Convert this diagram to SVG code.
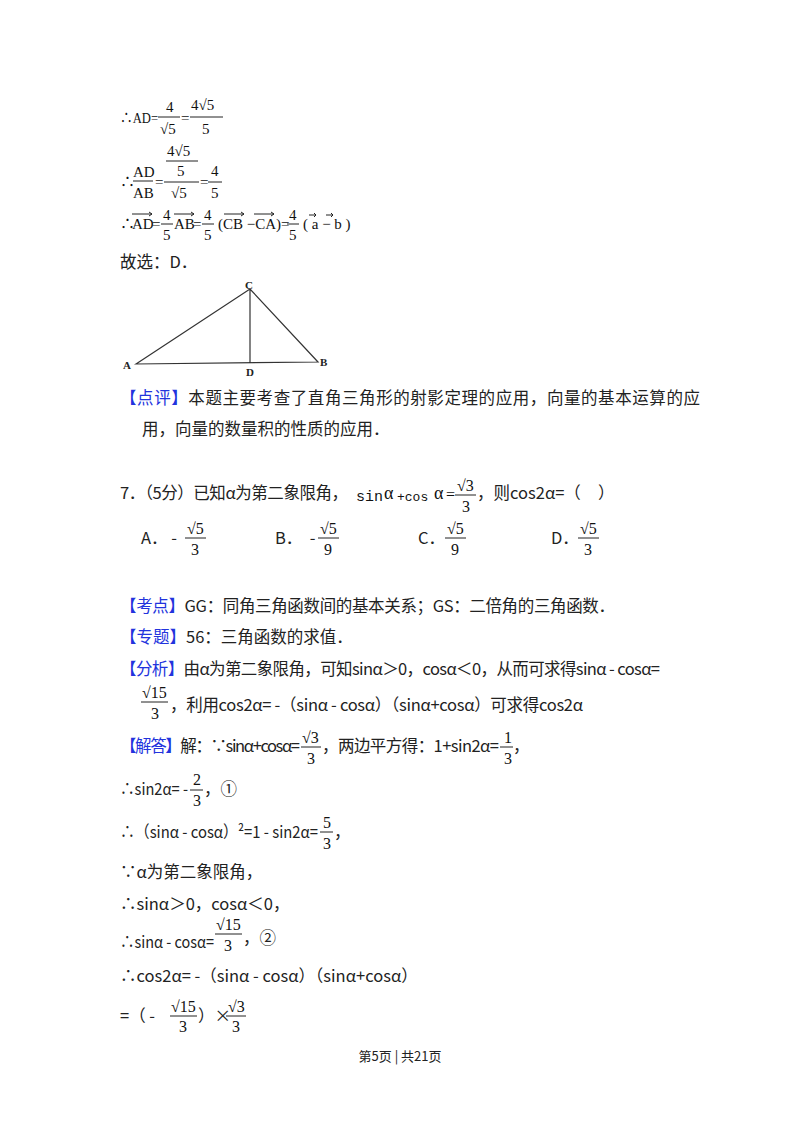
<svg xmlns="http://www.w3.org/2000/svg" width="800" height="1133" viewBox="0 0 800 1133">
<style>
text{font-family:"Noto Sans CJK SC","Noto Sans",sans-serif;font-size:16.5px;fill:#222}
.m{font-family:"Liberation Serif","Noto Sans CJK SC",serif;font-size:16px;fill:#111}
#derivation .m{font-size:15px}
.b{fill:#2233dd}
.l{stroke:#222;stroke-width:1;fill:none}
.tl{stroke:#333;stroke-width:1.2;fill:none}
.sm{font-family:"Liberation Serif",serif;font-size:11px;font-weight:bold;fill:#222}
</style>
<rect width="800" height="1133" fill="#fff"/>
<g id="derivation">
<text class="m" x="120" y="123" textLength="38" lengthAdjust="spacingAndGlyphs">∴AD=</text>
<text class="m" x="166" y="112">4</text><line class="l" x1="158" y1="117" x2="180" y2="117"/>
<text class="m" x="160" y="134">√5</text>
<text class="m" x="181" y="123">=</text>
<text class="m" x="191" y="110">4√5</text><line class="l" x1="190" y1="117" x2="223" y2="117"/>
<text class="m" x="202" y="134">5</text>

<text class="m" x="167" y="156">4√5</text><line class="l" x1="166" y1="161" x2="198" y2="161"/>
<text class="m" x="120" y="187">∴</text>
<text class="m" x="133" y="177">AD</text><line class="l" x1="133" y1="181" x2="153" y2="181"/>
<text class="m" x="133" y="198">AB</text>
<text class="m" x="155" y="187">=</text>
<text class="m" x="177" y="176">5</text><line class="l" x1="164" y1="182" x2="199" y2="182"/>
<text class="m" x="171" y="198">√5</text>
<text class="m" x="200" y="187">=</text>
<text class="m" x="211" y="176">4</text><line class="l" x1="208" y1="182" x2="222" y2="182"/>
<text class="m" x="211" y="198">5</text>

<text class="m" x="120" y="229">∴</text>
<text class="m" x="132" y="229">AD</text><path class="l" d="M132 214h20m-3-2l3 2l-3 2"/>
<text class="m" x="152" y="229">=</text>
<text class="m" x="163" y="220">4</text><line class="l" x1="161" y1="224" x2="173" y2="224"/><text class="m" x="163" y="240">5</text>
<text class="m" x="174" y="229">AB</text><path class="l" d="M174 214h20m-3-2l3 2l-3 2"/>
<text class="m" x="193" y="229">=</text>
<text class="m" x="204" y="220">4</text><line class="l" x1="202" y1="224" x2="214" y2="224"/><text class="m" x="204" y="240">5</text>
<text class="m" x="218" y="229" xml:space="preserve">(CB −CA)=</text><path class="l" d="M224 214h20m-3-2l3 2l-3 2M254 214h20m-3-2l3 2l-3 2"/>
<text class="m" x="289" y="220">4</text><line class="l" x1="287" y1="224" x2="299" y2="224"/><text class="m" x="289" y="240">5</text>
<text class="m" x="303" y="229" xml:space="preserve">( a − b )</text><path class="l" d="M309 215h7m-2-2l2 2l-2 2M326 215h7m-2-2l2 2l-2 2"/>
</g>
<text x="120" y="268">故选：D．</text>
<g id="triangle">
<path class="tl" d="M136 364L250 289L318 362ZM250 289V363"/>
<text class="sm" x="123" y="369">A</text>
<text class="sm" x="320" y="366">B</text>
<text class="sm" x="245" y="289">C</text>
<text class="sm" x="246" y="376">D</text>
</g>
<text x="120" y="404" textLength="580" lengthAdjust="spacing"><tspan class="b">【点评】</tspan>本题主要考查了直角三角形的射影定理的应用，向量的基本运算的应</text>
<text x="142" y="435">用，向量的数量积的性质的应用．</text>

<g id="q7">
<text x="120" y="499" textLength="228" lengthAdjust="spacing">7．（5分）已知α为第二象限角，</text>
<text class="m" x="356" y="501" style="font-family:'Liberation Mono',monospace;font-size:15px">sin</text>
<text class="m" x="384" y="499" style="font-size:18px">α</text>
<text class="m" x="397" y="501" style="font-family:'Liberation Mono',monospace;font-size:13px">+cos</text>
<text class="m" x="434" y="499" style="font-size:18px">α</text>
<text class="m" x="446" y="500">=</text>
<text class="m" x="457" y="491">√3</text><line class="l" x1="455" y1="495" x2="476" y2="495"/><text class="m" x="462" y="512">3</text>
<text x="477" y="499">，则cos2α=（</text>
<text x="598" y="499">）</text>
<text x="141" y="544">A．  -</text>
<text class="m" x="187" y="534">√5</text><line class="l" x1="185" y1="538" x2="206" y2="538"/><text class="m" x="191" y="555">3</text>
<text x="275" y="544" xml:space="preserve">B．  -</text>
<text class="m" x="320" y="534">√5</text><line class="l" x1="318" y1="538" x2="339" y2="538"/><text class="m" x="324" y="555">9</text>
<text x="418" y="544">C．</text>
<text class="m" x="447" y="534">√5</text><line class="l" x1="445" y1="538" x2="466" y2="538"/><text class="m" x="451" y="555">9</text>
<text x="551" y="544">D．</text>
<text class="m" x="580" y="534">√5</text><line class="l" x1="578" y1="538" x2="599" y2="538"/><text class="m" x="584" y="555">3</text>
</g>
<g id="solution">
<text x="120" y="612" textLength="495" lengthAdjust="spacing"><tspan class="b">【考点】</tspan>GG：同角三角函数间的基本关系；GS：二倍角的三角函数．</text>
<text x="120" y="643"><tspan class="b">【专题】</tspan>56：三角函数的求值．</text>
<text x="120" y="675" textLength="540" lengthAdjust="spacing"><tspan class="b">【分析】</tspan>由α为第二象限角，可知sinα＞0，cosα＜0，从而可求得sinα - cosα=</text>
<text class="m" x="142" y="698">√15</text><line class="l" x1="141" y1="702" x2="168" y2="702"/><text class="m" x="151" y="719">3</text>
<text x="170" y="711" textLength="413" lengthAdjust="spacing">，利用cos2α= -（sinα - cosα）（sinα+cosα）可求得cos2α</text>
<text x="120" y="752" textLength="180" lengthAdjust="spacing"><tspan class="b">【解答】</tspan>解：∵sinα+cosα=</text>
<text class="m" x="302" y="743">√3</text><line class="l" x1="301" y1="747" x2="321" y2="747"/><text class="m" x="307" y="764">3</text>
<text x="322" y="752" textLength="177" lengthAdjust="spacing">，两边平方得：1+sin2α=</text>
<text class="m" x="504" y="743">1</text><line class="l" x1="500" y1="747" x2="513" y2="747"/><text class="m" x="504" y="764">3</text>
<text x="513" y="752">，</text>
<text x="120" y="795" textLength="68" lengthAdjust="spacingAndGlyphs">∴sin2α= -</text>
<text class="m" x="193" y="785">2</text><line class="l" x1="190" y1="790" x2="203" y2="790"/><text class="m" x="193" y="806">3</text>
<text x="204" y="795">，①</text>
<text x="120" y="838" textLength="198" lengthAdjust="spacingAndGlyphs">∴（sinα - cosα）²=1 - sin2α=</text>
<text class="m" x="323" y="828">5</text><line class="l" x1="320" y1="832" x2="333" y2="832"/><text class="m" x="323" y="849">3</text>
<text x="334" y="838">，</text>
<text x="120" y="878">∵α为第二象限角，</text>
<text x="120" y="910">∴sinα＞0，cosα＜0，</text>
<text x="120" y="948" textLength="94" lengthAdjust="spacingAndGlyphs">∴sinα - cosα=</text>
<text class="m" x="216" y="930">√15</text><line class="l" x1="215" y1="934" x2="242" y2="934"/><text class="m" x="224" y="951">3</text>
<text x="243" y="944">，②</text>
<text x="120" y="982">∴cos2α= -（sinα - cosα）（sinα+cosα）</text>
<text x="120" y="1022">=（ -</text>
<text class="m" x="171" y="1012">√15</text><line class="l" x1="170" y1="1016" x2="197" y2="1016"/><text class="m" x="179" y="1032">3</text>
<text x="198" y="1022">）×</text>
<text class="m" x="228" y="1012">√3</text><line class="l" x1="226" y1="1016" x2="246" y2="1016"/><text class="m" x="232" y="1032">3</text>
</g>
<text x="400" y="1061" text-anchor="middle" style="font-size:13px">第5页 | 共21页</text>
</svg>
